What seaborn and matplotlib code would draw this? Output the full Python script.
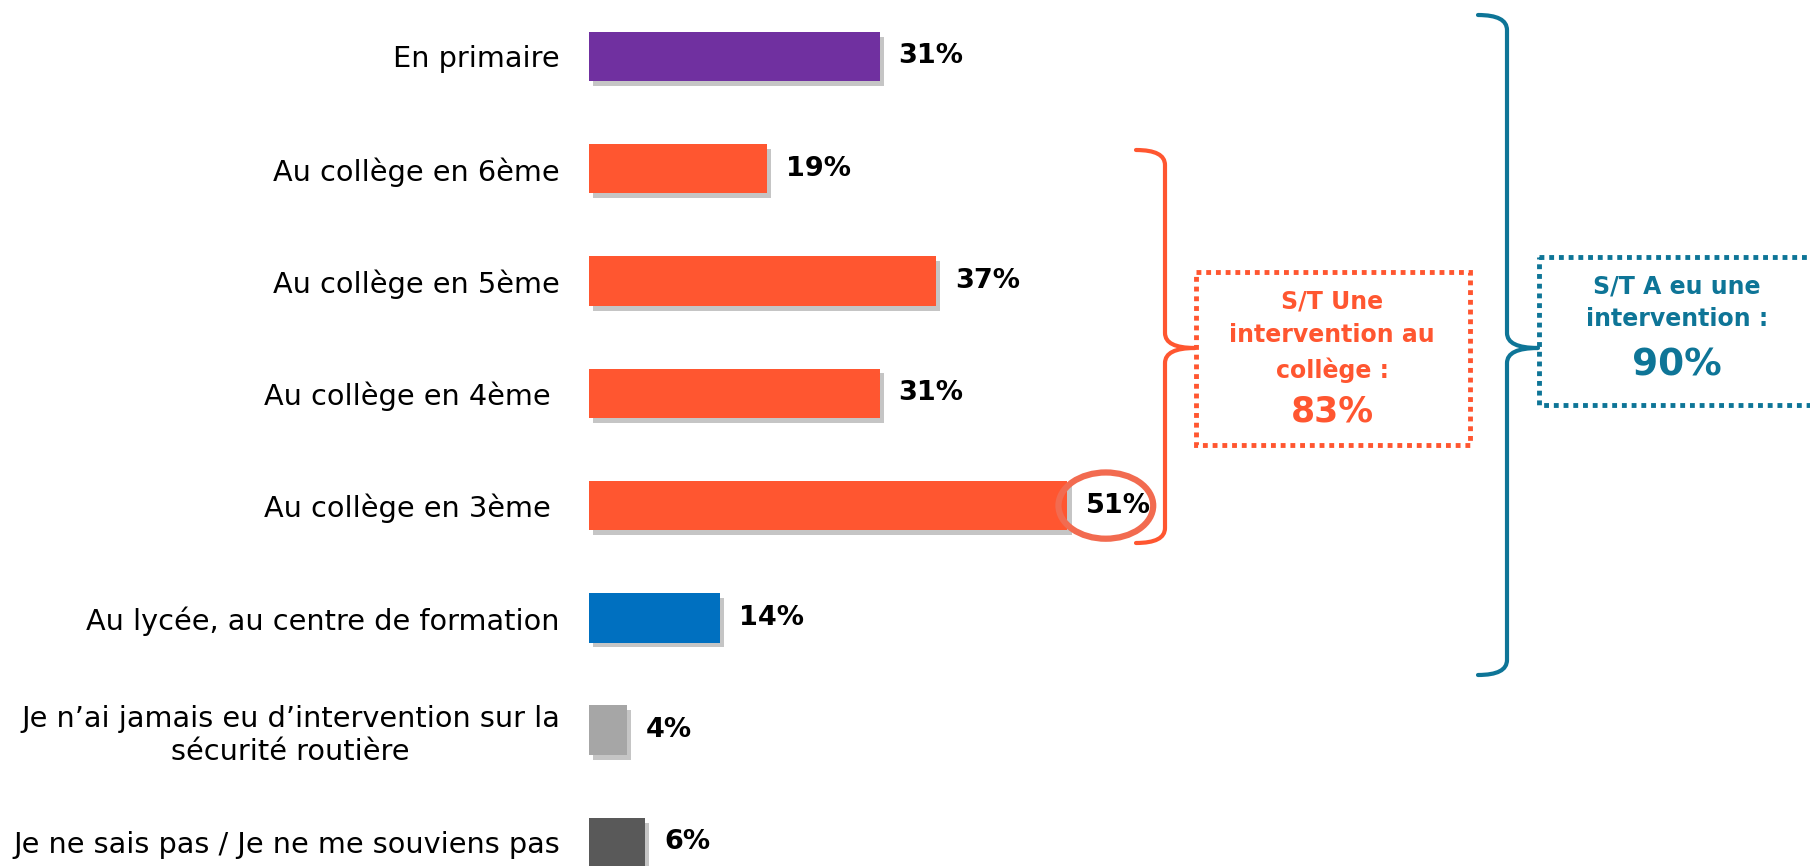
import numpy as np
import pandas as pd
import seaborn as sns
import matplotlib.pyplot as plt
import matplotlib.patheffects as pe
from matplotlib.patches import Ellipse, Rectangle, PathPatch
from matplotlib.path import Path

categories = [
    "En primaire",
    "Au collège en 6ème",
    "Au collège en 5ème",
    "Au collège en 4ème ",
    "Au collège en 3ème ",
    "Au lycée, au centre de formation",
    "Je n’ai jamais eu d’intervention sur la\nsécurité routière",
    "Je ne sais pas / Je ne me souviens pas",
]
values = [31, 19, 37, 31, 51, 14, 4, 6]
bar_colors = ["#7030A0", "#FF5630", "#FF5630", "#FF5630", "#FF5630",
              "#0070C0", "#A6A6A6", "#595959"]

college_label = "S/T Une\nintervention au\ncollège :"
college_total = "83%"
any_label = "S/T A eu une\nintervention :"
any_total = "90%"

ORANGE = "#FF5630"
TEAL = "#0E7597"

sns.set_style("white")
plt.rcParams["font.family"] = ["DejaVu Sans Condensed", "DejaVu Sans"]

df = pd.DataFrame({"category": categories, "value": values})

fig = plt.figure(figsize=(18.1, 8.66), dpi=100)
ax = fig.add_axes([589 / 1810, 0, 938 / 1810, 1])
sns.barplot(
    data=df, x="value", y="category", hue="category",
    palette=bar_colors, saturation=1, width=0.44, legend=False, ax=ax,
)
ax.set_xlim(0, 100)
ax.set_ylim(7.21, -0.503)
ax.set_xlabel("")
ax.set_ylabel("")
ax.set_xticks([])
sns.despine(ax=ax, left=True, bottom=True)
ax.tick_params(axis="y", length=0, pad=21, labelsize=20.7, labelcolor="black")
for lab in ax.get_yticklabels():
    lab.set_multialignment("center")

shadow = [pe.SimplePatchShadow(offset=(3, -3.5), shadow_rgbFace="#808080", alpha=0.45),
          pe.Normal()]
for bar in ax.patches:
    bar.set_path_effects(shadow)
    bar.set_linewidth(0)

for i, v in enumerate(values):
    ax.text(v + 2.0, i, f"{v}%", ha="left", va="center",
            fontsize=19.5, fontweight="bold", color="black")

# highlight circle around the biggest value
ax.add_patch(Ellipse((55.1, 4), 10.1, 0.59, fill=False, lw=4.5,
                     edgecolor="#F26B50", clip_on=False))

# overlay for braces and boxes, pixel coordinates
ov = fig.add_axes([0, 0, 1, 1], facecolor="none")
ov.set_xlim(0, 1810)
ov.set_ylim(866, 0)
ov.axis("off")


def brace(x0, xs, xt, ytop, ymid, ybot, color):
    r = 15
    verts = [
        (x0, ytop), (xs, ytop), (xs, ytop + r),
        (xs, ymid - r),
        (xs, ymid), (xt, ymid),
        (xs, ymid), (xs, ymid + r),
        (xs, ybot - r),
        (xs, ybot), (x0, ybot),
    ]
    codes = [Path.MOVETO, Path.CURVE3, Path.CURVE3,
             Path.LINETO,
             Path.CURVE3, Path.CURVE3,
             Path.CURVE3, Path.CURVE3,
             Path.LINETO,
             Path.CURVE3, Path.CURVE3]
    ov.add_patch(PathPatch(Path(verts, codes), fill=False, lw=3, edgecolor=color,
                           capstyle="round", joinstyle="round"))


brace(1136, 1165, 1195, 150, 348, 543, ORANGE)
brace(1478, 1507, 1538, 15, 348, 675, TEAL)

box_font = ["DejaVu Sans"]

ov.add_patch(Rectangle((1196, 272), 274, 173, fill=False, lw=3.5,
                       edgecolor=ORANGE, linestyle=(0, (1, 1))))
ov.text(1332, 336, college_label, ha="center", va="center", fontsize=17,
        fontweight="bold", color=ORANGE, linespacing=1.5, family=box_font)
ov.text(1332, 412, college_total, ha="center", va="center", fontsize=25,
        fontweight="bold", color=ORANGE, family=box_font)

ov.add_patch(Rectangle((1539, 257), 400, 148, fill=False, lw=3.5,
                       edgecolor=TEAL, linestyle=(0, (1, 1)), clip_on=False))
ov.text(1677, 303, any_label, ha="center", va="center", fontsize=17,
        fontweight="bold", color=TEAL, linespacing=1.45, family=box_font)
ov.text(1677, 366, any_total, ha="center", va="center", fontsize=27,
        fontweight="bold", color=TEAL, family=box_font)

fig.savefig("out.png", dpi=100)
